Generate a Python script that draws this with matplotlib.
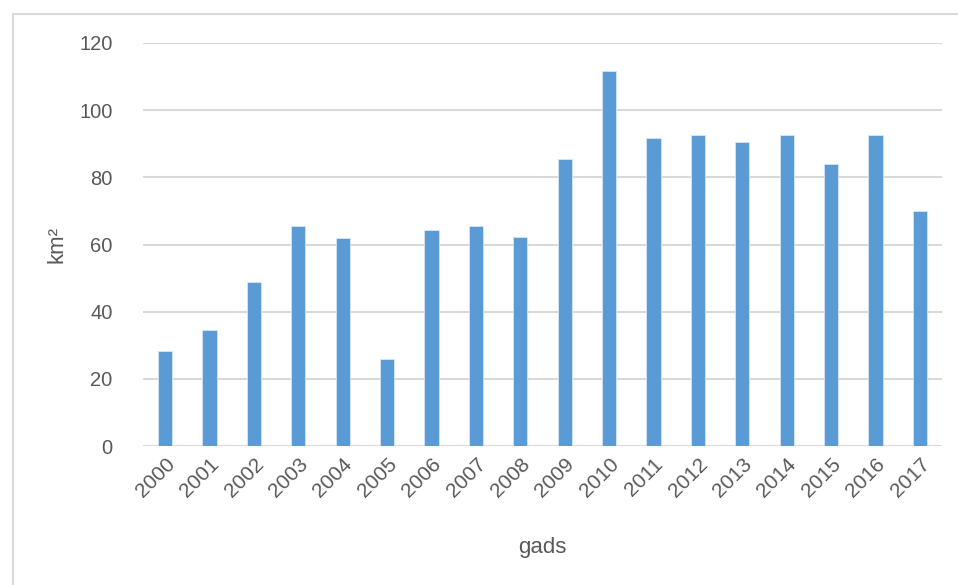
import matplotlib
matplotlib.use("Agg")
import matplotlib.pyplot as plt
from matplotlib.lines import Line2D

years = ["2000", "2001", "2002", "2003", "2004", "2005", "2006", "2007", "2008",
         "2009", "2010", "2011", "2012", "2013", "2014", "2015", "2016", "2017"]
area_km2 = [28.4, 34.6, 48.8, 65.5, 61.9, 25.9, 64.3, 65.5, 62.2,
            85.6, 111.7, 91.7, 92.5, 90.6, 92.5, 84.0, 92.5, 70.1]
yticks = [0, 20, 40, 60, 80, 100, 120]

plt.rcParams['font.family'] = ['Liberation Sans Narrow', 'Liberation Sans', 'DejaVu Sans']
text_color = "#595959"
grid_color = "#d9d9d9"
bar_color = "#5b9bd5"

fig = plt.figure(figsize=(9.58, 5.85), dpi=100)
# chart-area border: only top and left edges visible
fig.lines.append(Line2D([12.5 / 958, 1.0], [1 - 13.5 / 585] * 2, transform=fig.transFigure,
                        color=grid_color, linewidth=1.5))
fig.lines.append(Line2D([12.5 / 958] * 2, [0.0, 1 - 13.5 / 585], transform=fig.transFigure,
                        color=grid_color, linewidth=1.5))

ax = fig.add_axes([143 / 958, 1 - 446 / 585, (942 - 143) / 958, (446 - 43) / 585])

x = list(range(len(years)))
ax.bar(x, area_km2, width=0.32, color=bar_color, edgecolor="#d6e6f5", linewidth=0.6, zorder=3)

ax.set_xlim(-0.5, len(years) - 0.5)
ax.set_ylim(0, 120)
ax.set_yticks(yticks)
ax.set_yticklabels([str(v) for v in yticks], fontsize=14.5, color=text_color)
ax.set_xticks(x)
ax.set_xticklabels(years, rotation=45, ha="right", va="top", rotation_mode="anchor",
                   fontsize=15, color=text_color)
ax.tick_params(axis="both", length=0)
ax.tick_params(axis="y", pad=22)
ax.tick_params(axis="x", pad=6)
ax.grid(axis="y", color=grid_color, linewidth=1.5, zorder=0)
for s in ["top", "right", "left", "bottom"]:
    ax.spines[s].set_visible(False)

ax.set_xlabel("gads", fontsize=16, color=text_color, labelpad=26)
ax.set_ylabel("km²", fontsize=16, color=text_color, labelpad=8)

fig.savefig("out.png", dpi=100)
